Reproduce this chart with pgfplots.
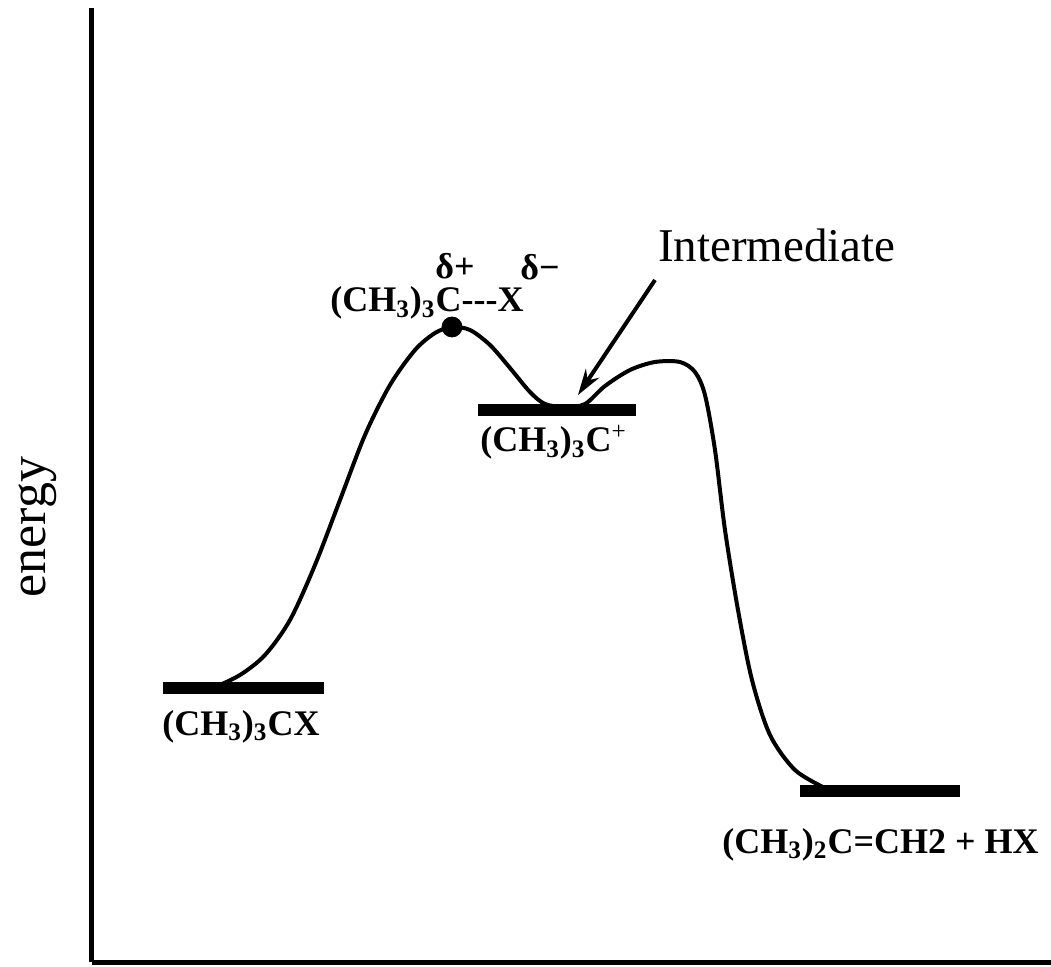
\documentclass[border=0pt]{standalone}
\usepackage{fontspec}
\setmainfont{Liberation Serif}
\usepackage{pgfplots}
\pgfplotsset{compat=1.18}
\usetikzlibrary{arrows.meta}
\begin{document}
\begin{tikzpicture}
\begin{axis}[
 scale only axis, width=479.5pt, height=477pt,
 xmin=92, xmax=1051, ymin=4, ymax=958,
 axis lines=left, axis line style={line width=2.5pt,-},
 xtick=\empty, ytick=\empty, clip=false,
]
\coordinate (BL) at (axis cs:0,0);
\coordinate (TR) at (axis cs:1051,966);
% energy levels
\addplot[black, line width=6pt] coordinates {(163,278) (324,278)};
\addplot[black, line width=6pt] coordinates {(478,556) (636,556)};
\addplot[black, line width=6pt] coordinates {(800,175) (960,175)};
% reaction curve
\addplot[black, line width=2pt, smooth, tension=0.5] coordinates {
(213,278) (240,291) (265,311) (290,346) (315,401) (340,466) (365,531)
(390,581) (415,616) (435,633) (452,639) (470,636) (490,621) (510,598)
(530,574) (545,562) (565,559) (585,562) (605,580) (630,596) (655,604)
(680,604) (695,594) (705,571) (715,516) (725,436) (738,356) (752,286)
(770,231) (795,196) (825,178)};
% transition state dot
\addplot[black, only marks, mark=*, mark size=5pt] coordinates {(452,639)};
% arrow
\addplot[black, line width=2pt, -{Stealth[length=13pt,width=8pt]}] coordinates {(655,686) (578,571)};
% labels
\node[anchor=center, font=\fontsize{23.5}{28}\selectfont] at (axis cs:777,721) {Intermediate};
\node[anchor=base west, inner sep=0pt, font=\fontsize{18}{22}\selectfont\bfseries] at (axis cs:330,654) {(CH\textsubscript{3})\textsubscript{3}C-{}-{}-X};
\node[anchor=center, inner sep=0pt, font=\fontsize{18}{22}\selectfont\bfseries] at (axis cs:455,700) {δ+};
\node[anchor=center, inner sep=0pt, font=\fontsize{18}{22}\selectfont\bfseries] at (axis cs:540,699) {δ−};
\node[anchor=base west, inner sep=0pt, font=\fontsize{18}{22}\selectfont\bfseries] at (axis cs:480,514) {(CH\textsubscript{3})\textsubscript{3}C\textsuperscript{\mdseries +}};
\node[anchor=base west, inner sep=0pt, font=\fontsize{18}{22}\selectfont\bfseries] at (axis cs:162,231) {(CH\textsubscript{3})\textsubscript{3}CX};
\node[anchor=base west, inner sep=0pt, font=\fontsize{18}{22}\selectfont\bfseries] at (axis cs:722,113) {(CH\textsubscript{3})\textsubscript{2}C=CH2 + HX};
\node[anchor=center, rotate=90, font=\fontsize{26}{30}\selectfont] at (axis cs:38,439) {energy};
\end{axis}
\pgfresetboundingbox
\path[use as bounding box] (BL) rectangle (TR);
\end{tikzpicture}
\end{document}
